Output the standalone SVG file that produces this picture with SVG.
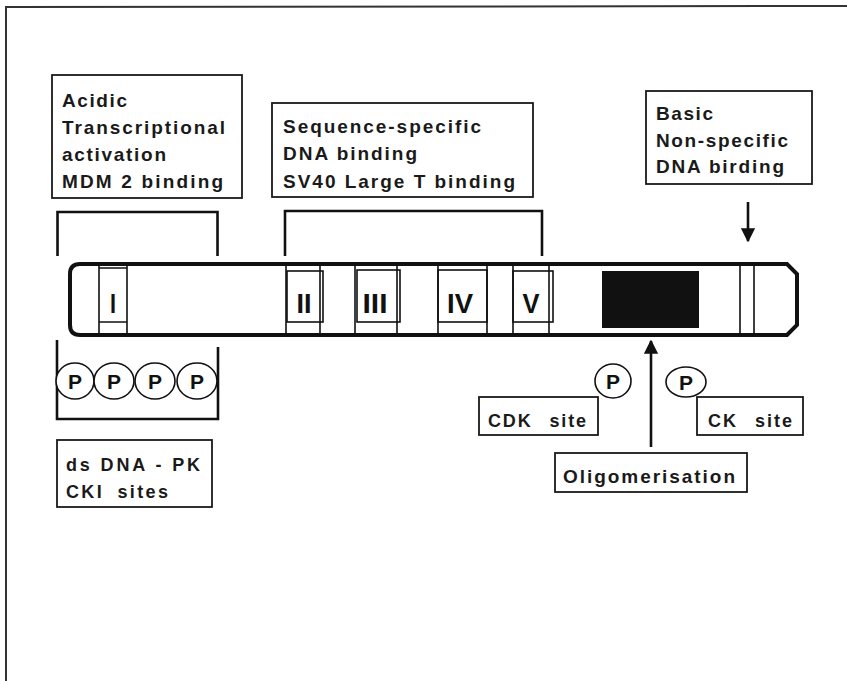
<svg xmlns="http://www.w3.org/2000/svg" width="847" height="681" viewBox="0 0 847 681">
<style>
.box{fill:none;stroke:#1a1a1a;stroke-width:1.8}
.t{font-family:"Liberation Sans",Arial,sans-serif;font-weight:bold;font-size:19px;fill:#1a1a1a}
.s{font-size:18px}
.num{font-family:"Liberation Sans",Arial,sans-serif;font-weight:bold;font-size:28px;fill:#111;text-anchor:middle}
.p{font-family:"Liberation Sans",Arial,sans-serif;font-weight:bold;font-size:21px;fill:#111;text-anchor:middle}
.br{fill:none;stroke:#111;stroke-width:2.6}
.ln{stroke:#111;stroke-width:1.6;fill:none}
.circ{fill:#fff;stroke:#111;stroke-width:1.6}
</style>
<defs>
<marker id="ah" viewBox="0 0 10 10" refX="9" refY="5" markerWidth="5.5" markerHeight="5.5" orient="auto" markerUnits="strokeWidth">
<path d="M0,0 L10,5 L0,10 Z" fill="#111"/>
</marker>
</defs>
<rect width="847" height="681" fill="#fff"/>
<g id="frame">
<path d="M6,681 L6,7 L847,6" fill="none" stroke="#333" stroke-width="2"/>
</g>

<g id="box-acidic">
<rect class="box" x="52" y="75" width="190" height="123"/>
<text class="t" x="62" y="107" textLength="65" lengthAdjust="spacing">Acidic</text>
<text class="t" x="62" y="134" textLength="163" lengthAdjust="spacing">Transcriptional</text>
<text class="t" x="62" y="161" textLength="104" lengthAdjust="spacing">activation</text>
<text class="t" x="62" y="188" textLength="161" lengthAdjust="spacing">MDM 2 binding</text>
</g>

<g id="box-sequence">
<rect class="box" x="272" y="103" width="261" height="94"/>
<text class="t" x="283" y="133" textLength="198" lengthAdjust="spacing">Sequence-specific</text>
<text class="t" x="283" y="160" textLength="134" lengthAdjust="spacing">DNA binding</text>
<text class="t" x="283" y="188" textLength="232" lengthAdjust="spacing">SV40 Large T binding</text>
</g>

<g id="box-basic">
<rect class="box" x="646" y="91" width="166" height="93"/>
<text class="t" x="656" y="120" textLength="57" lengthAdjust="spacing">Basic</text>
<text class="t" x="656" y="147" textLength="132" lengthAdjust="spacing">Non-specific</text>
<text class="t" x="656" y="173" textLength="128" lengthAdjust="spacing">DNA birding</text>
</g>

<g id="bracket-top-1"><path class="br" d="M57.5,256 V212 H217.5 V256"/></g>
<g id="bracket-top-2"><path class="br" d="M285,256 V211 H542 V256"/></g>
<g id="bracket-bottom"><path class="br" d="M57,340 V419 H218 V347"/></g>

<g id="protein-bar">
<path d="M80,264 H787 L797,274 V325 L787,335 H80 Q70,335 70,325 V274 Q70,264 80,264 Z" fill="#fff" stroke="#111" stroke-width="4"/>
</g>

<g id="domain-I">
<path class="ln" d="M99,265 V334 M127,265 V334 M99,268 H127 M99,322 H127"/>
<text class="num" x="113" y="313" textLength="6" lengthAdjust="spacingAndGlyphs">I</text>
</g>
<g id="domain-II">
<path class="ln" d="M286,265 V334 M320,265 V334"/>
<rect class="ln" x="287" y="271" width="36" height="51"/>
<text class="num" x="304" y="313" textLength="15" lengthAdjust="spacingAndGlyphs">II</text>
</g>
<g id="domain-III">
<path class="ln" d="M355,265 V334 M397,265 V334"/>
<rect class="ln" x="357" y="270" width="43" height="52"/>
<text class="num" x="375" y="313" textLength="25" lengthAdjust="spacingAndGlyphs">III</text>
</g>
<g id="domain-IV">
<path class="ln" d="M438,265 V334 M487,265 V334"/>
<rect class="ln" x="438" y="270" width="49" height="52"/>
<text class="num" x="460" y="313" textLength="26" lengthAdjust="spacingAndGlyphs">IV</text>
</g>
<g id="domain-V">
<path class="ln" d="M513,265 V334 M549,265 V334"/>
<rect class="ln" x="513" y="271" width="40" height="51"/>
<text class="num" x="531" y="313" textLength="17" lengthAdjust="spacingAndGlyphs">V</text>
</g>
<g id="oligo-domain">
<rect x="602" y="271" width="97" height="57" fill="#111"/>
</g>
<g id="basic-domain">
<path class="ln" d="M740,265 V334 M754,265 V334"/>
</g>

<g id="p-sites-left">
<ellipse class="circ" cx="75" cy="381" rx="19" ry="18"/>
<ellipse class="circ" cx="114" cy="381" rx="20" ry="18"/>
<ellipse class="circ" cx="155" cy="381" rx="20" ry="18"/>
<ellipse class="circ" cx="197" cy="381" rx="20" ry="18"/>
<text class="p" x="75" y="389">P</text>
<text class="p" x="114" y="389">P</text>
<text class="p" x="155" y="389">P</text>
<text class="p" x="197" y="389">P</text>
</g>

<g id="box-dsdna">
<rect class="box" x="57" y="440" width="155" height="67"/>
<text class="t s" x="66" y="471" textLength="134" lengthAdjust="spacing">ds DNA - PK</text>
<text class="t s" x="66" y="498" textLength="102" lengthAdjust="spacing" word-spacing="6">CKI sites</text>
</g>

<g id="p-cdk">
<ellipse class="circ" cx="613" cy="381" rx="18" ry="17"/>
<text class="p" x="613" y="389">P</text>
</g>
<g id="p-ck">
<ellipse class="circ" cx="686" cy="382" rx="20" ry="15"/>
<text class="p" x="686" y="390">P</text>
</g>

<g id="box-cdk">
<rect class="box" x="479" y="397" width="119" height="38"/>
<text class="t s" x="488" y="427" textLength="98" lengthAdjust="spacing" word-spacing="10">CDK site</text>
</g>
<g id="box-ck">
<rect class="box" x="697" y="397" width="106" height="38"/>
<text class="t s" x="708" y="427" textLength="84" lengthAdjust="spacing" word-spacing="10">CK site</text>
</g>
<g id="box-oligo">
<rect class="box" x="555" y="453" width="192" height="39"/>
<text class="t" x="563" y="483" textLength="172" lengthAdjust="spacing">Oligomerisation</text>
</g>

<g id="connectors">
<line x1="748" y1="202" x2="748" y2="241" stroke="#111" stroke-width="2.6" marker-end="url(#ah)"/>
<line x1="651" y1="447" x2="651" y2="341" stroke="#111" stroke-width="2.6" marker-end="url(#ah)"/>
</g>
</svg>
